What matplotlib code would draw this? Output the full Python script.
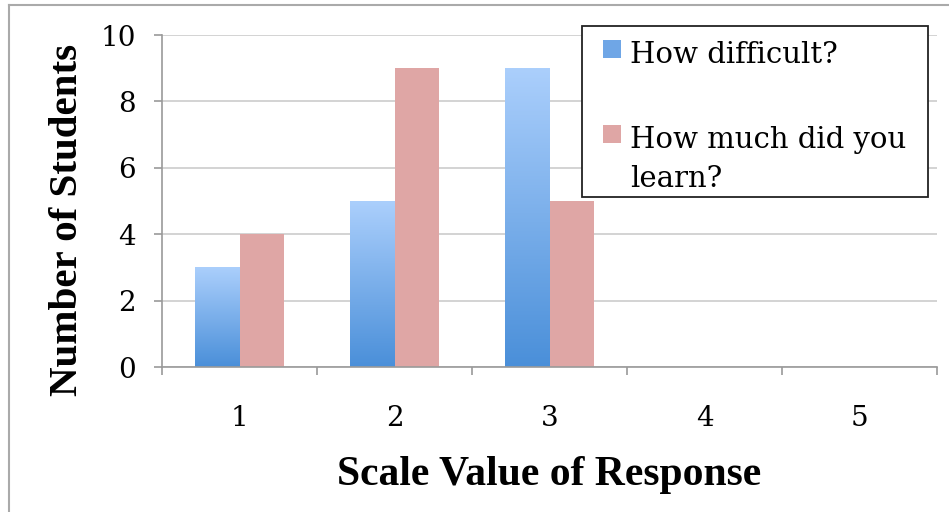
import numpy as np
import matplotlib
matplotlib.use("Agg")
import matplotlib.pyplot as plt
from matplotlib.patches import Rectangle
from matplotlib.lines import Line2D
from matplotlib.colors import LinearSegmentedColormap

# --- data ---
categories = ["1", "2", "3", "4", "5"]
difficult = [3, 5, 9, 0, 0]
learned = [4, 9, 5, 0, 0]
series_labels = ["How difficult?", "How much did you\nlearn?"]
y_ticks = [0, 2, 4, 6, 8, 10]

BODY = "DejaVu Serif"
TITLE = "Liberation Serif"
plt.rcParams["font.family"] = BODY

W, H = 949, 512
fig = plt.figure(figsize=(W / 100, H / 100), dpi=100)
ax = fig.add_axes([162 / W, 1 - 367 / H, 775 / W, 332 / H])

x = np.arange(1, len(categories) + 1)
width = 0.285
blue_top, blue_bot = "#abcffc", "#4a8fd9"
pink = "#dfa6a5"

bars_b = ax.bar(x - width / 2, difficult, width, color="#7aaeea", zorder=2)
bars_p = ax.bar(x + width / 2, learned, width, color=pink, zorder=2)

# vertical gradient on the blue bars
cmap = LinearSegmentedColormap.from_list("bl", [blue_bot, blue_top])
grad = np.linspace(0, 1, 256).reshape(-1, 1)
for b in bars_b:
    if b.get_height() <= 0:
        continue
    x0, y0 = b.get_x(), b.get_y()
    im = ax.imshow(grad, extent=[x0, x0 + b.get_width(), y0, y0 + b.get_height()],
                   origin="lower", aspect="auto", cmap=cmap, zorder=2.5)
    im.set_clip_path(b)

ax.set_xlim(0.5, len(categories) + 0.5)
ax.set_ylim(0, 10)

# axes styling
for s in ["top", "right"]:
    ax.spines[s].set_visible(False)
for s in ["left", "bottom"]:
    ax.spines[s].set_color("#9a9a9a")
    ax.spines[s].set_linewidth(1.2)

ax.set_yticks(y_ticks)
ax.set_yticklabels([str(v) for v in y_ticks])
ax.yaxis.grid(True, color="#cccccc", linewidth=1.2, zorder=0)
ax.set_axisbelow(True)
ax.tick_params(axis="y", length=6, width=1.2, color="#9a9a9a", pad=13, labelsize=20)

ax.set_xticks(x)
ax.set_xticklabels(categories)
ax.set_xticks(np.arange(0.5, len(categories) + 1, 1), minor=True)
ax.tick_params(axis="x", which="major", length=0, pad=27, labelsize=20)
ax.tick_params(axis="x", which="minor", length=6, width=1.2, color="#9a9a9a")

ax.set_ylabel("Number of Students", fontsize=29.5, fontweight="bold", family=TITLE)
ax.yaxis.set_label_coords(-0.098, 0.443)
ax.set_xlabel("Scale Value of Response", fontsize=30, fontweight="bold", family=TITLE, labelpad=18)

# legend drawn by hand so the markers sit on the first text line
fig.add_artist(Rectangle((582 / W, 1 - 197 / H), 346 / W, 171 / H, transform=fig.transFigure,
                         facecolor="white", edgecolor="#222222", linewidth=1.3, zorder=5))
fig.add_artist(Rectangle((603 / W, 1 - 58 / H), 18 / W, 18 / H, transform=fig.transFigure,
                         facecolor="#6fa6e6", edgecolor="none", zorder=6))
fig.add_artist(Rectangle((603 / W, 1 - 143 / H), 18 / W, 18 / H, transform=fig.transFigure,
                         facecolor=pink, edgecolor="none", zorder=6))
fig.text(630 / W, 1 - 63 / H, series_labels[0], fontsize=21, va="baseline", ha="left", zorder=7)
for i, line in enumerate(series_labels[1].split("\n")):
    fig.text(630 / W, 1 - (148 + 39 * i) / H, line, fontsize=21, va="baseline", ha="left", zorder=7)

# outer frame (top and left edges only visible)
fig.add_artist(Line2D([9 / W, 9 / W], [0, 1 - 5 / H], transform=fig.transFigure,
                      color="#aaaaaa", linewidth=1.5))
fig.add_artist(Line2D([9 / W, 1], [1 - 5 / H, 1 - 5 / H], transform=fig.transFigure,
                      color="#aaaaaa", linewidth=1.5))

fig.savefig("out.png", dpi=100)
